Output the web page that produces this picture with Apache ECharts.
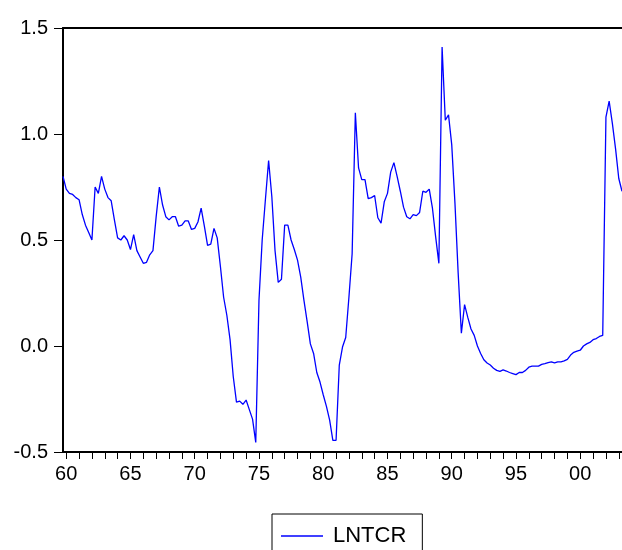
<!DOCTYPE html>
<html>
<head>
<meta charset="utf-8">
<script src="https://cdn.jsdelivr.net/npm/echarts@6/dist/echarts.min.js"></script>
<style>
  html, body { margin: 0; padding: 0; background: #fff; }
  #chart { width: 622px; height: 550px; }
</style>
</head>
<body>
<div id="chart"></div>
<script>
// quarterly series, first observation 1959Q4
const startYear = 1959;
const startQuarter = 4;
const seriesName = 'LNTCR';

const lntcr = [
  0.80, 0.74, 0.72, 0.715, 0.70, 0.69, 0.62, 0.57, 0.535, 0.50,
  0.75, 0.72, 0.80, 0.74, 0.70, 0.685, 0.595, 0.51, 0.50, 0.52,
  0.50, 0.455, 0.525, 0.45, 0.42, 0.39, 0.395, 0.43, 0.45, 0.61,
  0.75, 0.665, 0.61, 0.595, 0.61, 0.61, 0.565, 0.57, 0.59, 0.59,
  0.55, 0.555, 0.585, 0.65, 0.565, 0.475, 0.48, 0.555, 0.51, 0.375,
  0.23, 0.145, 0.03, -0.145, -0.265, -0.26, -0.275, -0.255, -0.30, -0.345,
  -0.455, 0.215, 0.50, 0.69, 0.875, 0.705, 0.45, 0.30, 0.315, 0.57,
  0.57, 0.50, 0.455, 0.405, 0.325, 0.215, 0.115, 0.01, -0.035, -0.125,
  -0.17, -0.23, -0.285, -0.35, -0.445, -0.445, -0.09, -0.005, 0.04, 0.23,
  0.435, 1.10, 0.84, 0.785, 0.785, 0.695, 0.70, 0.71, 0.605, 0.58,
  0.68, 0.72, 0.82, 0.865, 0.80, 0.73, 0.655, 0.61, 0.60, 0.62,
  0.615, 0.63, 0.73, 0.725, 0.74, 0.65, 0.515, 0.39, 1.41, 1.065,
  1.09, 0.95, 0.675, 0.345, 0.06, 0.195, 0.135, 0.08, 0.05, 0.0,
  -0.035, -0.065, -0.08, -0.09, -0.105, -0.115, -0.12, -0.113, -0.118, -0.125,
  -0.13, -0.135, -0.125, -0.125, -0.115, -0.10, -0.095, -0.095, -0.095, -0.087,
  -0.083, -0.078, -0.075, -0.08, -0.075, -0.075, -0.07, -0.063, -0.043, -0.03,
  -0.024, -0.02, 0.0, 0.01, 0.017, 0.03, 0.035, 0.045, 0.05, 1.08,
  1.155, 1.05, 0.93, 0.79, 0.73
];

const yTicks = [-0.5, 0.0, 0.5, 1.0, 1.5];

// category labels like 1960Q1
const quarters = lntcr.map((_, i) => {
  const q = startQuarter - 1 + i;
  return { year: startYear + Math.floor(q / 4), q: (q % 4) + 1 };
});
const categories = quarters.map(d => d.year + 'Q' + d.q);

const isYearStart = (i) => quarters[i] && quarters[i].q === 1;
const isLabelYear = (i) => isYearStart(i) && quarters[i].year % 5 === 0;

const font = 'Liberation Sans, Arial, sans-serif';

const chart = echarts.init(document.getElementById('chart'), null, { renderer: 'canvas' });

chart.setOption({
  animation: false,
  backgroundColor: '#fff',
  grid: { left: 63, right: 0, top: 28, bottom: 98, containLabel: false },
  legend: {
    data: [{ name: seriesName, icon: 'rect' }],
    left: 272,
    top: 514,
    padding: [11, 16, 20, 9],
    itemWidth: 42,
    itemHeight: 1.3,
    borderColor: '#000',
    borderWidth: 1,
    backgroundColor: '#fff',
    textStyle: { fontFamily: font, fontSize: 22, color: '#000', padding: [0, 0, 0, 5] }
  },
  xAxis: [{
    type: 'category',
    data: categories,
    boundaryGap: false,
    axisLine: { onZero: false, lineStyle: { color: '#000', width: 2 } },
    axisTick: {
      inside: false,
      length: 7,
      interval: (i) => isYearStart(i),
      lineStyle: { color: '#000', width: 1 }
    },
    axisLabel: {
      interval: (i) => isLabelYear(i),
      formatter: (v, i) => String(quarters[i].year % 100).padStart(2, '0'),
      margin: 12,
      fontFamily: font,
      fontSize: 20,
      color: '#000'
    },
    splitLine: { show: false }
  }, {
    type: 'category',
    data: categories,
    position: 'top',
    boundaryGap: false,
    axisLine: { onZero: false, lineStyle: { color: '#000', width: 2 } },
    axisTick: { show: false },
    axisLabel: { show: false },
    splitLine: { show: false }
  }],
  yAxis: {
    type: 'value',
    min: yTicks[0],
    max: yTicks[yTicks.length - 1],
    interval: 0.5,
    axisLine: { show: true, lineStyle: { color: '#000', width: 2 } },
    axisTick: { show: true, length: 9, lineStyle: { color: '#000', width: 1 } },
    axisLabel: {
      formatter: (v) => v.toFixed(1),
      margin: 15,
      padding: [0, 0, 7, 0],
      fontFamily: font,
      fontSize: 20,
      color: '#000'
    },
    splitLine: { show: false }
  },
  series: [{
    name: seriesName,
    type: 'line',
    data: lntcr,
    symbol: 'none',
    lineStyle: { color: '#0000ff', width: 1.3 },
    itemStyle: { color: '#0000ff' }
  }]
});
</script>
</body>
</html>
